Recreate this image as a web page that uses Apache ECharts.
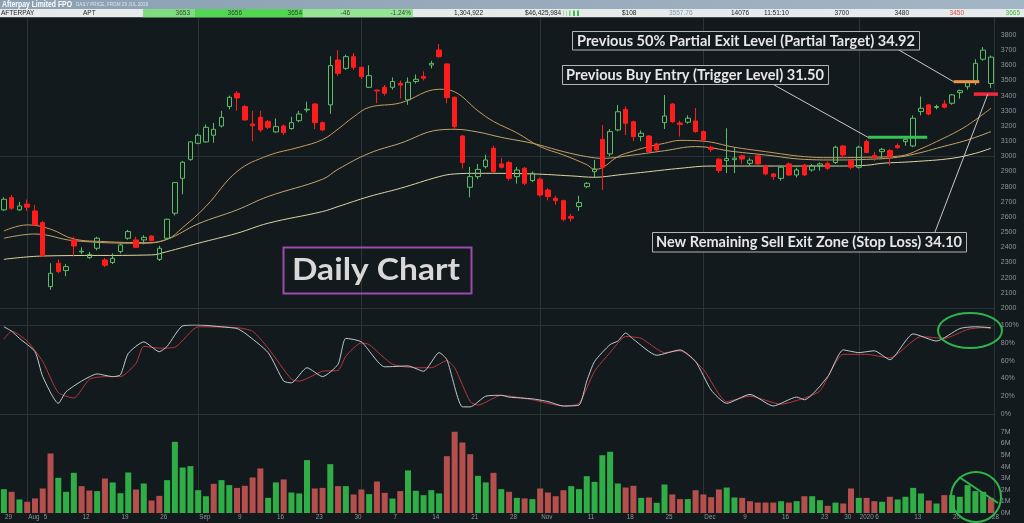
<!DOCTYPE html>
<html>
<head>
<meta charset="utf-8">
<script src="https://cdn.jsdelivr.net/npm/echarts@6.0.0/dist/echarts.min.js"></script>
<style>
html,body{margin:0;padding:0;background:#131a1d;overflow:hidden;}
#c{width:1024px;height:523px;}
</style>
</head>
<body>
<div id="c"></div>
<script>
// ---------------- DATA ----------------
const dates = [
 '2019-07-29','2019-07-30','2019-07-31',
 '2019-08-01','2019-08-02','2019-08-05','2019-08-06','2019-08-07','2019-08-08','2019-08-09','2019-08-12','2019-08-13','2019-08-14','2019-08-15','2019-08-16','2019-08-19','2019-08-20','2019-08-21','2019-08-22','2019-08-23','2019-08-26','2019-08-27','2019-08-28','2019-08-29','2019-08-30',
 '2019-09-02','2019-09-03','2019-09-04','2019-09-05','2019-09-06','2019-09-09','2019-09-10','2019-09-11','2019-09-12','2019-09-13','2019-09-16','2019-09-17','2019-09-18','2019-09-19','2019-09-20','2019-09-23','2019-09-24','2019-09-25','2019-09-26','2019-09-27','2019-09-30',
 '2019-10-01','2019-10-02','2019-10-03','2019-10-04','2019-10-07','2019-10-08','2019-10-09','2019-10-10','2019-10-11','2019-10-14','2019-10-15','2019-10-16','2019-10-17','2019-10-18','2019-10-21','2019-10-22','2019-10-23','2019-10-24','2019-10-25','2019-10-28','2019-10-29','2019-10-30','2019-10-31',
 '2019-11-01','2019-11-04','2019-11-05','2019-11-06','2019-11-07','2019-11-08','2019-11-11','2019-11-12','2019-11-13','2019-11-14','2019-11-15','2019-11-18','2019-11-19','2019-11-20','2019-11-21','2019-11-22','2019-11-25','2019-11-26','2019-11-27','2019-11-28','2019-11-29',
 '2019-12-02','2019-12-03','2019-12-04','2019-12-05','2019-12-06','2019-12-09','2019-12-10','2019-12-11','2019-12-12','2019-12-13','2019-12-16','2019-12-17','2019-12-18','2019-12-19','2019-12-20','2019-12-23','2019-12-24','2019-12-27','2019-12-30','2019-12-31',
 '2020-01-02','2020-01-03','2020-01-06','2020-01-07','2020-01-08','2020-01-09','2020-01-10','2020-01-13','2020-01-14','2020-01-15','2020-01-16','2020-01-17','2020-01-20','2020-01-21','2020-01-22','2020-01-23','2020-01-24','2020-01-28'
];
const opens = [
 2647,2728,2647,2685,2640,2563,2141,2295,2247,2449,
 2370,2332,2394,2317,2300,2372,2460,2449,2449,2475,
 2321,2460,2625,2855,2980,3086,3095,3139,3200,3328,
 3416,3328,3213,3257,3229,3161,3200,3183,3235,3306,
 3345,3222,3339,3635,3580,3657,3587,3455,3437,3455,
 3455,3480,3372,3493,3526,3602,3701,3609,3389,3134,
 2796,2866,2932,3053,2950,2959,2866,2921,2840,2849,
 2778,2724,2708,2603,2669,2800,2899,3112,3016,3174,
 3310,3228,3130,3134,3082,3222,3345,3220,3225,3233,
 3163,3060,2981,2972,2978,3003,2954,3003,2937,2884,
 2855,2950,2877,2943,2910,2937,2954,2959,3068,2972,
 2928,3097,3005,3031,3038,3071,3097,3068,3295,3339,
 3322,3345,3350,3420,3459,3486,3640,3480
];
const closes = [
 2717,2658,2673,2665,2548,2343,2229,2240,2273,2409,
 2375,2354,2460,2282,2328,2416,2504,2400,2466,2444,
 2394,2585,2827,2961,3095,3139,3191,3178,3257,3389,
 3385,3240,3202,3174,3191,3196,3156,3222,3279,3310,
 3222,3174,3598,3547,3657,3587,3525,3532,3431,3416,
 3493,3470,3488,3508,3515,3613,3657,3387,3196,2959,
 2866,2914,2976,2899,2928,2855,2910,2822,2888,2745,
 2734,2708,2585,2592,2695,2822,2915,2928,3163,3294,
 3218,3130,3152,3031,3042,3266,3228,3210,3251,3163,
 3108,3046,2906,2985,2988,2982,2975,2950,2884,2866,
 2928,2877,2910,2877,2937,2950,2921,3060,3009,2928,
 3060,3025,2992,3046,2998,3057,3112,3251,3317,3279,
 3328,3323,3405,3433,3486,3613,3700,3654
];
const lows = [
 2640,2647,2640,2640,2540,2340,2120,2230,2210,2340,
 2355,2325,2380,2270,2290,2360,2450,2395,2420,2440,
 2310,2450,2610,2750,2970,3080,3090,3090,3190,3310,
 3300,3235,3100,3160,3180,3155,3140,3175,3225,3290,
 3180,3165,3280,3530,3570,3570,3510,3450,3350,3400,
 3440,3380,3340,3480,3500,3580,3650,3350,3180,2920,
 2730,2850,2920,2890,2920,2840,2820,2810,2830,2735,
 2710,2680,2570,2570,2640,2790,2860,2778,3000,3165,
 3140,3100,3100,3025,3035,3180,3220,3130,3215,3155,
 3100,3030,2890,2890,2890,2950,2940,2945,2875,2845,
 2840,2870,2860,2870,2900,2905,2910,2950,2990,2915,
 2920,3020,2970,2990,2940,3050,3070,3060,3270,3270,
 3310,3315,3340,3380,3440,3470,3630,3450
];
const highs = [
 2730,2745,2700,2715,2680,2575,2295,2320,2290,2470,
 2400,2370,2470,2330,2360,2425,2515,2470,2480,2480,
 2410,2590,2830,2970,3100,3150,3210,3220,3300,3400,
 3430,3340,3300,3300,3240,3250,3210,3260,3300,3360,
 3350,3230,3660,3700,3670,3680,3590,3600,3440,3470,
 3520,3500,3520,3540,3560,3630,3740,3615,3395,3140,
 2930,2950,3010,3070,2990,2970,2930,2930,2900,2860,
 2790,2740,2715,2620,2740,2830,2976,3207,3180,3339,
 3330,3235,3170,3140,3090,3404,3350,3235,3270,3319,
 3170,3070,2990,3185,3060,3010,2990,3010,2945,2890,
 2935,2960,2925,2950,2950,2960,2965,3070,3075,2980,
 3070,3110,3030,3055,3050,3085,3130,3270,3394,3345,
 3340,3370,3410,3440,3495,3640,3720,3665
];
// volume in millions of shares
const volumes = [
 2.06,1.83,1.17,0.97,1.26,2.12,5.14,3.04,1.83,3.47,
 2.32,1.94,1.89,2.98,2.64,1.71,3.50,2.03,2.55,1.08,
 1.48,2.84,6.15,3.93,4.05,1.97,1.45,2.52,2.84,2.41,
 2.17,2.35,3.07,3.85,1.31,2.64,2.90,1.77,1.69,4.57,
 2.12,2.17,4.22,2.32,2.32,1.60,2.03,1.63,2.72,1.74,
 1.25,1.89,3.68,1.92,1.54,1.97,1.69,4.91,7.02,6.09,
 5.08,3.21,2.64,3.47,2.06,1.83,1.31,1.26,1.20,2.12,
 1.77,1.45,1.97,2.32,2.06,3.18,2.69,4.99,5.29,2.55,
 2.20,2.35,1.31,1.34,0.88,2.46,1.60,1.20,1.20,1.97,
 1.60,1.37,2.03,2.20,1.34,1.31,1.02,0.90,0.90,0.90,
 1.02,0.90,1.02,1.45,1.45,1.11,0.62,0.90,0.82,2.12,
 1.31,1.31,1.02,0.97,1.40,1.17,1.40,2.17,1.69,1.08,
 0.82,1.54,1.54,1.40,2.41,1.89,1.83,1.31
];
// moving averages: [day index, price]
const maFast = [[0,2508],[3,2548],[6,2520],[9,2455],[13,2438],[18,2431],[21,2453],[23,2530],[26,2670],[30,2900],[34,3005],[38,3060],[41,3110],[43,3180],[45,3260],[47,3323],[51,3352],[56,3442],[58,3425],[61,3300],[63,3230],[66,3155],[69,3064],[72,3009],[75,2945],[76,2915],[77,2925],[79,2998],[81,3035],[83,3064],[85,3086],[87,3105],[90,3100],[94,3060],[98,3031],[103,2998],[107,2991],[111,2994],[114,2998],[116,3009],[118,3050],[120,3097],[123,3174],[125,3240],[127,3317]];
const maMid = [[0,2460],[4,2488],[9,2444],[18,2427],[21,2453],[25,2555],[30,2647],[34,2735],[41,2849],[43,2915],[47,3020],[51,3086],[56,3174],[58,3178],[61,3160],[64,3125],[68,3086],[72,3031],[75,2998],[77,2987],[81,3009],[85,3037],[89,3064],[94,3031],[98,3009],[103,2980],[107,2976],[111,2980],[115,2994],[118,3025],[120,3053],[124,3108],[127,3163]];
const maSlow = [[0,2321],[5,2343],[19,2350],[21,2372],[25,2427],[30,2493],[34,2559],[41,2636],[43,2669],[47,2735],[51,2789],[56,2866],[58,2884],[61,2888],[68,2884],[73,2871],[76,2862],[79,2877],[83,2899],[87,2921],[91,2936],[98,2936],[107,2936],[111,2941],[113,2954],[117,2965],[122,2987],[125,3020],[127,3053]];
// stochastic %K and %D: [day index, percent]
const stochK = [[0,98],[1,93],[2,85],[4,70],[5,42],[7,12],[8,25],[10,37],[12,45],[14,42],[15,44],[16,68],[18,81],[20,70],[21,76],[23,99],[25,100],[28,98],[30,96],[31,91],[34,69],[36,37],[37,35],[39,52],[41,42],[43,56],[44,85],[46,81],[49,53],[52,54],[54,48],[56,69],[57,61],[59,8],[60,8],[62,20],[64,21],[65,19],[68,17],[70,14],[72,9],[74,10],[75,37],[76,59],[78,78],[79,82],[80,91],[81,84],[84,66],[87,72],[89,59],[91,27],[93,12],[96,22],[99,9],[102,19],[103,16],[106,42],[108,72],[110,69],[112,71],[114,61],[117,90],[120,82],[123,96],[125,98],[127,97]];
const stochD = [[0,84],[1,93],[3,82],[5,59],[7,24],[9,18],[11,39],[13,42],[15,42],[17,57],[18,76],[20,74],[22,75],[25,98],[30,97],[32,93],[34,74],[37,39],[38,37],[41,48],[43,49],[44,65],[46,80],[47,78],[50,56],[53,52],[55,52],[57,60],[58,52],[60,14],[61,10],[64,21],[68,16],[72,9],[74,12],[76,48],[78,69],[80,87],[82,85],[85,69],[87,71],[90,50],[93,14],[96,20],[100,11],[103,18],[105,26],[108,67],[111,67],[114,63],[118,87],[121,85],[124,95],[126,97],[127,96]];
// x-axis tick labels (by trading day)
const xTickLabels = {
 '2019-07-29':'29','2019-08-01':'Aug','2019-08-05':'5','2019-08-12':'12','2019-08-19':'19','2019-08-26':'26',
 '2019-09-02':'Sep','2019-09-09':'9','2019-09-16':'16','2019-09-23':'23','2019-09-30':'30',
 '2019-10-07':'7','2019-10-14':'14','2019-10-21':'21','2019-10-28':'28',
 '2019-11-01':'Nov','2019-11-11':'11','2019-11-18':'18','2019-11-25':'25',
 '2019-12-02':'Dec','2019-12-09':'9','2019-12-16':'16','2019-12-23':'23','2019-12-30':'30',
 '2020-01-02':'2020','2020-01-06':'6','2020-01-13':'13','2020-01-20':'20','2020-01-28':'28'
};
const monthStarts = ['2019-08-01','2019-09-02','2019-10-01','2019-11-01','2019-12-02','2020-01-02'];
// trade levels: [price, from day index, to day index]
const partialTarget = [3492, 122.2, 125.5];
const triggerLevel  = [3125, 111.2, 118.8];
const stopLoss      = [3410, 124.8, 128.2];
const annotations = [
 'Previous 50% Partial Exit Level (Partial Target) 34.92',
 'Previous Buy Entry (Trigger Level) 31.50',
 'New Remaining Sell Exit Zone (Stop Loss) 34.10'
];

// ---------------- STYLE / LAYOUT ----------------
const BG = '#131a1d';
const GL = -3, GW = 997.8, GR = GL + GW;
const AX = '#8c969a';
const GRIDLINE = '#2a3336';
const UPC = '#5cbd69', DNC = '#ff1c1c';
const VUP = '#2fae48', VDN = '#b54f4d';

const candle = dates.map((d,i)=>[opens[i], closes[i], lows[i], highs[i]]);
const volData = volumes.map((v,i)=>({value:v, itemStyle:{color:(i===0||closes[i]>=closes[i-1])?VUP:VDN}}));

const hidAxis = {axisLine:{show:false}, axisTick:{show:false}, axisLabel:{show:false}, splitLine:{show:false}};
const yLab = {color:AX, fontSize:7, margin:6, fontFamily:'Liberation Sans'};

const option = {
  backgroundColor: BG,
  animation: false,
  grid: [
    {left:GL, width:GW, top:19.8, height:303.4},
    {left:GL, width:GW, top:325, height:89},
    {left:GL, width:GW, top:420.4, height:92.6}
  ],
  xAxis: [
    Object.assign({type:'category', gridIndex:0, data:dates, boundaryGap:true}, hidAxis),
    Object.assign({type:'value', gridIndex:0, min:-0.5, max:127.5}, hidAxis),
    Object.assign({type:'value', gridIndex:1, min:-0.5, max:127.5}, hidAxis),
    {type:'category', gridIndex:2, data:dates, boundaryGap:true,
     axisLine:{show:false}, axisTick:{show:false}, splitLine:{show:false},
     axisLabel:{show:true, color:AX, fontSize:6.3, fontFamily:'Liberation Sans', margin:1.5, align:'left', padding:[0,0,0,1],
       interval:(idx,val)=>xTickLabels[val]!==undefined, formatter:(val)=>xTickLabels[val]||''}}
  ],
  yAxis: [
    {type:'value', gridIndex:0, position:'right', min:1900, max:3900, interval:100,
     axisLine:{show:false}, axisTick:{show:false}, splitLine:{show:false},
     axisLabel:Object.assign({showMinLabel:false, showMaxLabel:false, formatter:(v)=>String(v)}, yLab)},
    {type:'value', gridIndex:1, position:'right', min:0, max:100, interval:20,
     axisLine:{show:false}, axisTick:{show:false}, splitLine:{show:false},
     axisLabel:Object.assign({formatter:'{value}%'}, yLab)},
    {type:'value', gridIndex:2, position:'right', min:0, max:8, interval:1,
     axisLine:{show:false}, axisTick:{show:false}, splitLine:{show:false},
     axisLabel:Object.assign({formatter:'{value}M', showMaxLabel:false}, yLab)}
  ],
  series: [
    {type:'line', name:'MA slow', xAxisIndex:1, yAxisIndex:0, data:maSlow, symbol:'none', smooth:0.4,
     lineStyle:{color:'#ddd5a0', width:1}, z:3},
    {type:'line', name:'MA mid', xAxisIndex:1, yAxisIndex:0, data:maMid, symbol:'none', smooth:0.4,
     lineStyle:{color:'#c2a56f', width:1}, z:3},
    {type:'line', name:'MA fast', xAxisIndex:1, yAxisIndex:0, data:maFast, symbol:'none', smooth:0.4,
     lineStyle:{color:'#c99a5c', width:1}, z:3},
    {type:'candlestick', xAxisIndex:0, yAxisIndex:0, data:candle, barWidth:5, z:4,
     itemStyle:{color:'transparent', color0:DNC, borderColor:UPC, borderColor0:DNC, borderWidth:1}},
    {type:'line', xAxisIndex:1, yAxisIndex:0, symbol:'none', clip:false, z:5,
     data:[[triggerLevel[1],triggerLevel[0]],[triggerLevel[2],triggerLevel[0]]], lineStyle:{color:'#35c257', width:3}},
    {type:'line', xAxisIndex:1, yAxisIndex:0, symbol:'none', clip:false, z:5,
     data:[[partialTarget[1],partialTarget[0]],[partialTarget[2],partialTarget[0]]], lineStyle:{color:'#ef9545', width:3}},
    {type:'line', xAxisIndex:1, yAxisIndex:0, symbol:'none', clip:false, z:5,
     data:[[stopLoss[1],stopLoss[0]],[stopLoss[2],stopLoss[0]]], lineStyle:{color:'#f0283a', width:3.5}},
    {type:'line', name:'%D', xAxisIndex:2, yAxisIndex:1, data:stochD, symbol:'none', smooth:0.2,
     lineStyle:{color:'#b9363a', width:1}},
    {type:'line', name:'%K', xAxisIndex:2, yAxisIndex:1, data:stochK, symbol:'none', smooth:0.2,
     lineStyle:{color:'#c3cbd0', width:1}},
    {type:'bar', xAxisIndex:3, yAxisIndex:2, data:volData, barWidth:6}
  ]
};

const chart = echarts.init(document.getElementById('c'), null, {width:1024, height:523});
chart.setOption(option);

// ---------------- DECORATION ----------------
const mctx = document.createElement('canvas').getContext('2d');
function fit(text, font, target){ mctx.font = font; const w = mctx.measureText(text).width; return w>0 ? target/w : 1; }
const P = (x,y)=>chart.convertToPixel({xAxisIndex:1, yAxisIndex:0}, [x,y]);
const G = [];
const ln = (x1,y1,x2,y2,stroke,w,z)=>G.push({type:'line', silent:true, z:z||0, shape:{x1,y1,x2,y2}, style:{stroke, lineWidth:w||1}});

// grid lines
monthStarts.forEach(d=>{ const x = Math.round(chart.convertToPixel({xAxisIndex:0}, d))+0.5; ln(x,18,x,513,GRIDLINE,1); });
[2000,3000].forEach(v=>{ const y = Math.round(chart.convertToPixel({yAxisIndex:0}, v))+0.5; ln(0,y,GR,y,GRIDLINE,1); });
[0,100].forEach(v=>{ const y = Math.round(chart.convertToPixel({yAxisIndex:1}, v))+0.5; ln(0,y,GR,y,GRIDLINE,1); });
ln(Math.round(GR)-0.5,18,Math.round(GR)-0.5,513,GRIDLINE,1);

// header
G.push({type:'rect', z:20, shape:{x:0,y:0,width:1024,height:9}, style:{fill:{type:'linear',x:0,y:0,x2:1,y2:0,colorStops:[{offset:0,color:'#8ba0b3'},{offset:1,color:'#a3b6c5'}]}}});
const tFont = 'bold 9px "Liberation Sans"';
G.push({type:'text', z:21, x:2, y:4.6, scaleX:fit('Afterpay Limited FPO', tFont, 70), style:{text:'Afterpay Limited FPO', font:tFont, fill:'#ffffff', verticalAlign:'middle'}});
const sFont = '5px "Liberation Sans"';
G.push({type:'text', z:21, x:76, y:5, scaleX:fit('DAILY PRICE, FROM 29 JUL 2019', sFont, 72), style:{text:'DAILY PRICE, FROM 29 JUL 2019', font:sFont, fill:'#dde5ec', verticalAlign:'middle'}});
G.push({type:'rect', z:20, shape:{x:0,y:9,width:1024,height:8.3}, style:{fill:'#e7eaeb'}});
[[143,52,'#7fdc7f'],[195,108,'#52d552'],[303,110,'#94e494']].forEach(c=>G.push({type:'rect', z:20, shape:{x:c[0],y:9,width:c[1],height:8.3}, style:{fill:c[2]}}));
[[563,1,'#9be39b'],[566,1,'#9be39b'],[569,1.5,'#6fd36f'],[573,2,'#3fbf3f'],[577,2,'#3fbf3f']].forEach(c=>G.push({type:'rect', z:21, shape:{x:c[0],y:10.5,width:c[1],height:5.5}, style:{fill:c[2]}}));
const hFont = '6.5px "Liberation Sans"';
const cells = [
 ['AFTERPAY',1,'left','#222'],['APT',83,'left','#222'],['3653',190,'right','#2b4a2b'],['3656',242,'right','#2b4a2b'],
 ['3654',302,'right','#2b4a2b'],['-46',350,'right','#2b4a2b'],['-1.24%',411,'right','#2b4a2b'],['1,304,922',483,'right','#222'],
 ['$46,425,984',525,'left','#222'],['$108',622,'left','#222'],['3557.76',669,'left','#8196a8'],['14076',731,'left','#222'],
 ['11:51:10',764,'left','#222'],['3700',849,'right','#222'],['3480',909,'right','#222'],['3450',964,'right','#e04848'],['3665',1020,'right','#35b935']
];
cells.forEach(c=>G.push({type:'text', z:21, x:c[1], y:13.3, style:{text:c[0], font:hFont, fill:c[3], align:c[2], verticalAlign:'middle'}}));

// annotation boxes
const aFont = 'bold 15px Lato, "Open Sans", sans-serif';
const boxes = [
 {r:[572,31,347,18.5], tx:577, tw:338, t:annotations[0]},
 {r:[562,65,266,19], tx:566, tw:258, t:annotations[1]},
 {r:[652,232,314,19.5], tx:656, tw:306, t:annotations[2]}
];
boxes.forEach(b=>{
  G.push({type:'rect', z:30, shape:{x:b.r[0]+0.5,y:b.r[1]+0.5,width:b.r[2],height:b.r[3]}, style:{fill:BG, stroke:'#b4b4b4', lineWidth:1}});
  G.push({type:'text', z:31, x:b.tx, y:b.r[1]+b.r[3]/2+0.8, scaleX:fit(b.t, aFont, b.tw), style:{text:b.t, font:aFont, fill:'#e6e6e6', verticalAlign:'middle'}});
});
// leader lines to the levels
const e1 = P(partialTarget[1], partialTarget[0]);
const e2 = P(triggerLevel[1], triggerLevel[0]);
const e3 = P(126.6, stopLoss[0]);
ln(898,49.5,e1[0],e1[1],'#c9c9c9',1,29);
ln(773,84.3,e2[0],e2[1],'#c9c9c9',1,29);
ln(935,232,e3[0],e3[1],'#c9c9c9',1,29);

// Daily Chart label
const dFont = 'bold 31px Lato, "Open Sans", sans-serif';
G.push({type:'rect', z:30, shape:{x:283.5,y:247.5,width:188,height:46}, style:{fill:'none', stroke:'#9c4cab', lineWidth:2}});
G.push({type:'text', z:31, x:292, y:270, scaleX:fit('Daily Chart', dFont, 168), style:{text:'Daily Chart', font:dFont, fill:'#d8d8d8', verticalAlign:'middle'}});

// green highlight ellipses
G.push({type:'ellipse', z:30, shape:{cx:970, cy:330.5, rx:32, ry:17.5}, style:{fill:'none', stroke:'#2fb44c', lineWidth:2}});
G.push({type:'ellipse', z:30, shape:{cx:976, cy:497, rx:25, ry:25}, style:{fill:'none', stroke:'#2fb44c', lineWidth:2}});
ln(959,477,998,503,'#2fb44c',2,30);

chart.setOption({graphic: G});
</script>
</body>
</html>
